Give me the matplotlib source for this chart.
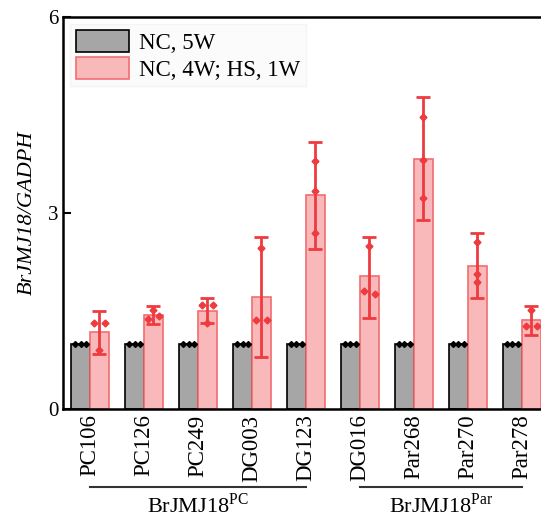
import numpy as np
import matplotlib.pyplot as plt

plt.rcParams['font.family'] = ['Liberation Serif', 'DejaVu Serif']
plt.rcParams['mathtext.fontset'] = 'custom'
plt.rcParams['mathtext.rm'] = 'Liberation Serif'

lines = ['PC106', 'PC126', 'PC249', 'DG003', 'DG123',
         'DG016', 'Par268', 'Par270', 'Par278']
# three replicates per line, heat-stressed (NC 4W; HS 1W)
hs_reps = [[1.31, 0.91, 1.31],
           [1.38, 1.52, 1.42],
           [1.59, 1.32, 1.59],
           [1.36, 2.46, 1.36],
           [3.79, 3.34, 2.69],
           [1.81, 2.50, 1.76],
           [4.47, 3.81, 3.23],
           [2.56, 2.07, 1.95],
           [1.27, 1.52, 1.27]]
hs_mean = [1.18, 1.44, 1.50, 1.72, 3.28, 2.03, 3.83, 2.19, 1.36]
hs_err_hi = [1.50, 1.58, 1.70, 2.63, 4.09, 2.64, 4.77, 2.69, 1.57]
hs_err_lo = [0.84, 1.30, 1.31, 0.79, 2.45, 1.40, 2.90, 1.70, 1.13]
nc_reps = [[1.0, 1.0, 1.0]] * 9
nc_mean = [1.0] * 9

groups = [('BrJMJ18$^{\\mathrm{PC}}$', 0, 4), ('BrJMJ18$^{\\mathrm{Par}}$', 5, 8)]

grey = '#a6a6a6'
pink = '#f9b9bb'
red = '#ee3b3f'


def spread(vals, d=0.1, tol=0.1):
    # crude beeswarm: points with near-equal values sit side by side
    vals = np.asarray(vals)
    offs = np.zeros(len(vals))
    used = np.zeros(len(vals), bool)
    for i in range(len(vals)):
        if used[i]:
            continue
        idx = [j for j in range(len(vals)) if not used[j] and abs(vals[j] - vals[i]) < tol]
        for j in idx:
            used[j] = True
        n = len(idx)
        if n == 2:
            offs[idx[0]], offs[idx[1]] = -d, d
        elif n > 2:
            for j, oo in zip(idx, np.linspace(-d, d, n)):
                offs[j] = oo
    return offs


fig = plt.figure(figsize=(5.41, 5.17), dpi=100)
ax = fig.add_axes([0.1165, 0.2089, 0.898, 0.758])

x = np.arange(len(lines))
w = 0.35
ax.bar(x - w / 2, nc_mean, w, color=grey, edgecolor='black', linewidth=1.2,
       label='NC, 5W', zorder=2)
ax.bar(x + w / 2, hs_mean, w, color=pink, edgecolor='#f26d70', linewidth=1.2,
       label='NC, 4W; HS, 1W', zorder=2)

hs_mean_a = np.array(hs_mean)
yerr = [hs_mean_a - np.array(hs_err_lo), np.array(hs_err_hi) - hs_mean_a]
ax.errorbar(x + w / 2, hs_mean, yerr=yerr, fmt='none', ecolor=red,
            elinewidth=2, capsize=5, capthick=2, zorder=3)

for i in range(len(lines)):
    o = spread(nc_reps[i], d=0.1)
    ax.plot(x[i] - w / 2 + o, nc_reps[i], 'D', color='black', ms=3, zorder=4)
    o = spread(hs_reps[i], d=0.1)
    ax.plot(x[i] + w / 2 + o, hs_reps[i], 'D', color=red, ms=3.5, zorder=4)

ax.set_xlim(-0.5, len(lines) - 0.5)
ax.set_ylim(0, 6)
ax.set_yticks([0, 3, 6])
ax.tick_params(axis='y', direction='in', length=6, width=1.5, labelsize=15)
ax.set_xticks(x)
ax.set_xticklabels(lines, rotation=90, fontsize=16.5)
ax.tick_params(axis='x', length=0, pad=4)
ax.set_ylabel('BrJMJ18/GADPH', fontsize=16, style='italic', labelpad=8)
for s in ['top', 'left', 'bottom', 'right']:
    ax.spines[s].set_linewidth(1.8)

leg = ax.legend(loc='upper left', fontsize=16.5, handlelength=2.35, handleheight=1.1,
                frameon=True, fancybox=False, framealpha=1, edgecolor='#f4f4f4',
                borderaxespad=0.3, handletextpad=0.4, labelspacing=0.15,
                borderpad=0.25)
leg.get_frame().set_facecolor('#fbfbfb')

trans = ax.get_xaxis_transform()
for name, a, b in groups:
    ax.plot([a, b], [-0.2, -0.2], color='#333333', lw=1.5,
            transform=trans, clip_on=False)
    ax.text((a + b) / 2, -0.215, name, transform=trans, ha='center', va='top',
            fontsize=16)

fig.savefig('out.png', dpi=100)
